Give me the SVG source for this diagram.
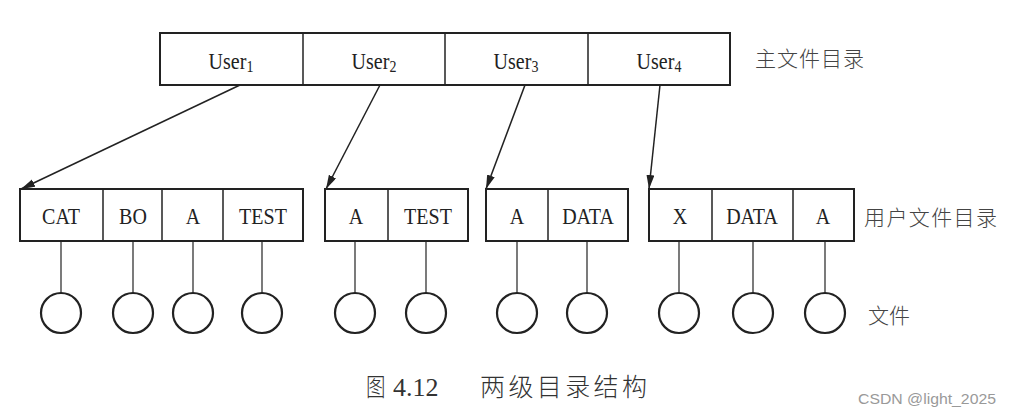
<svg xmlns="http://www.w3.org/2000/svg" width="1010" height="415" viewBox="0 0 1010 415">
<defs>
<marker id="ah" markerUnits="userSpaceOnUse" markerWidth="15" markerHeight="9" refX="14" refY="4" orient="auto">
<path d="M0,0 L14,4 L0,8 Z" fill="#222"/>
</marker>
<style>
.box{fill:#fff;stroke:#222;stroke-width:2}
.div{stroke:#222;stroke-width:1.5}
.stem{stroke:#333;stroke-width:1.3}
.file{fill:#fff;stroke:#222;stroke-width:2.2}
.conn{stroke:#222;stroke-width:1.5;fill:none;marker-end:url(#ah)}
.t{font-family:"Liberation Serif","Times New Roman",serif;font-size:20px;fill:#222;text-anchor:middle}
.cn{font-family:"Noto Sans CJK SC",sans-serif;font-size:21px;font-weight:300;fill:#444}
.cap{font-family:"Noto Sans CJK SC",sans-serif;font-size:25px;font-weight:300;fill:#333}
.capn{font-family:"Liberation Serif","Times New Roman",serif;font-size:26px;fill:#333}
.wm{font-family:"Liberation Sans",Arial,sans-serif;font-size:15px;fill:#999}
</style>
</defs>
<rect width="1010" height="415" fill="#fff"/>

<g id="master-dir">
<rect class="box" x="160" y="33" width="570" height="52"/>
<line class="div" x1="303" y1="33" x2="303" y2="85"/>
<line class="div" x1="445" y1="33" x2="445" y2="85"/>
<line class="div" x1="588" y1="33" x2="588" y2="85"/>
<text class="t" transform="matrix(1,0,0,1.2,231,69)">User<tspan font-size="14" dy="2.5">1</tspan></text>
<text class="t" transform="matrix(1,0,0,1.2,374,69)">User<tspan font-size="14" dy="2.5">2</tspan></text>
<text class="t" transform="matrix(1,0,0,1.2,516,69)">User<tspan font-size="14" dy="2.5">3</tspan></text>
<text class="t" transform="matrix(1,0,0,1.2,659,69)">User<tspan font-size="14" dy="2.5">4</tspan></text>
<text class="cn" x="755" y="66" letter-spacing="1">主文件目录</text>
</g>

<g id="connectors">
<line class="conn" x1="240" y1="85" x2="21" y2="189"/>
<line class="conn" x1="380" y1="85" x2="326" y2="189"/>
<line class="conn" x1="525" y1="85" x2="486" y2="189"/>
<line class="conn" x1="660" y1="85" x2="649" y2="189"/>
<g class="stems">
<line class="stem" x1="61" y1="241" x2="61" y2="293"/>
<line class="stem" x1="133" y1="241" x2="133" y2="293"/>
<line class="stem" x1="193" y1="241" x2="193" y2="293"/>
<line class="stem" x1="262" y1="241" x2="262" y2="293"/>
<line class="stem" x1="355" y1="241" x2="355" y2="293"/>
<line class="stem" x1="426" y1="241" x2="426" y2="293"/>
<line class="stem" x1="517" y1="241" x2="517" y2="293"/>
<line class="stem" x1="587" y1="241" x2="587" y2="293"/>
<line class="stem" x1="679" y1="241" x2="679" y2="293"/>
<line class="stem" x1="753" y1="241" x2="753" y2="293"/>
<line class="stem" x1="825" y1="241" x2="825" y2="293"/>
</g>
</g>

<g id="user1-dir">
<rect class="box" x="20" y="189" width="283" height="52"/>
<line class="div" x1="103" y1="189" x2="103" y2="241"/>
<line class="div" x1="162" y1="189" x2="162" y2="241"/>
<line class="div" x1="223" y1="189" x2="223" y2="241"/>
<text class="t" transform="matrix(1,0,0,1.2,61,224)">CAT</text>
<text class="t" transform="matrix(1,0,0,1.2,133,224)">BO</text>
<text class="t" transform="matrix(1,0,0,1.2,193,224)">A</text>
<text class="t" transform="matrix(1,0,0,1.2,263,224)">TEST</text>
</g>
<g id="user2-dir">
<rect class="box" x="325" y="189" width="143" height="52"/>
<line class="div" x1="388" y1="189" x2="388" y2="241"/>
<text class="t" transform="matrix(1,0,0,1.2,356,224)">A</text>
<text class="t" transform="matrix(1,0,0,1.2,428,224)">TEST</text>
</g>
<g id="user3-dir">
<rect class="box" x="486" y="189" width="142" height="52"/>
<line class="div" x1="548" y1="189" x2="548" y2="241"/>
<text class="t" transform="matrix(1,0,0,1.2,517,224)">A</text>
<text class="t" transform="matrix(1,0,0,1.2,588,224)">DATA</text>
</g>
<g id="user4-dir">
<rect class="box" x="649" y="189" width="205" height="52"/>
<line class="div" x1="712" y1="189" x2="712" y2="241"/>
<line class="div" x1="793" y1="189" x2="793" y2="241"/>
<text class="t" transform="matrix(1,0,0,1.2,680,224)">X</text>
<text class="t" transform="matrix(1,0,0,1.2,752,224)">DATA</text>
<text class="t" transform="matrix(1,0,0,1.2,823,224)">A</text>
</g>
<g id="user-dir-label">
<text class="cn" x="864" y="225" letter-spacing="1.4">用户文件目录</text>
</g>

<g id="files">
<circle class="file" cx="61" cy="313" r="20"/>
<circle class="file" cx="133" cy="313" r="20"/>
<circle class="file" cx="193" cy="313" r="20"/>
<circle class="file" cx="262" cy="313" r="20"/>
<circle class="file" cx="355" cy="313" r="20"/>
<circle class="file" cx="426" cy="313" r="20"/>
<circle class="file" cx="517" cy="313" r="20"/>
<circle class="file" cx="587" cy="313" r="20"/>
<circle class="file" cx="679" cy="313" r="20"/>
<circle class="file" cx="753" cy="313" r="20"/>
<circle class="file" cx="825" cy="313" r="20"/>
<text class="cn" x="868" y="323">文件</text>
</g>

<g id="caption">
<text class="cap" transform="matrix(0.78,0,0,1,366,396)">图</text>
<text class="capn" x="393" y="396">4.12</text>
<text class="cap" x="480" y="396" textLength="167" lengthAdjust="spacing">两级目录结构</text>
</g>
<text class="wm" x="858" y="404" textLength="138" lengthAdjust="spacingAndGlyphs">CSDN @light_2025</text>
</svg>
